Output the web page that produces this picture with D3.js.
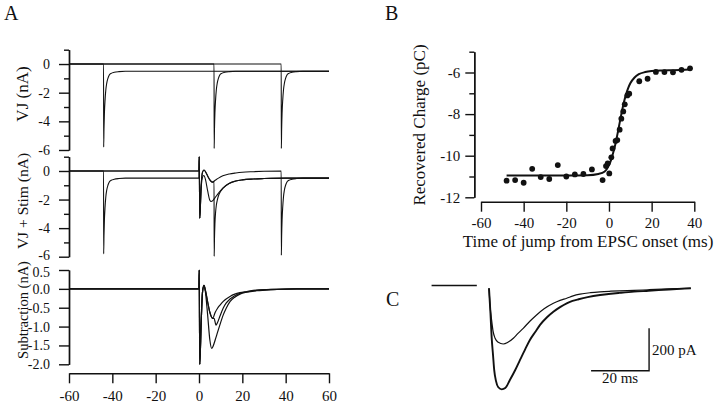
<!DOCTYPE html>
<html><head><meta charset="utf-8">
<script src="https://cdn.jsdelivr.net/npm/d3@7"></script>
<style>
body{margin:0;background:#fff;}
svg{display:block;font-family:"Liberation Serif","Times New Roman",serif;}
</style></head><body>
<svg id="c" width="720" height="404"></svg>
<script>
// ---------- Panel A tick values ----------
const aTicksX = [-60, -40, -20, 0, 20, 40, 60];
const vjTicks = [0, -2, -4, -6];
const vjMinor = [1, -1, -3, -5];
const subTicks = [0.5, 0, -0.5, -1, -1.5, -2];

// ---------- Panel A, VJ traces (time ms, current nA) ----------
const vj1T = [-60, -44.05, -44, -43.85, -43.65, -43.35, -43, -42.6, -42, -41.4, -40.5, -39.1, -37, -34, 60];
const vj1V = [0, 0, -5.8, -4.5, -3.4, -2.5, -1.8, -1.35, -0.98, -0.77, -0.65, -0.58, -0.53, -0.5, -0.5];
const vj2T = [-60, 6.95, 7, 7.15, 7.35, 7.65, 8, 8.4, 9, 9.6, 10.5, 11.9, 14, 17, 60];
const vj2V = [0, 0, -5.9, -4.5, -3.4, -2.5, -1.8, -1.35, -0.98, -0.77, -0.65, -0.58, -0.53, -0.5, -0.5];
const vj3T = [-60, 37.95, 38, 38.15, 38.35, 38.65, 39, 39.4, 40, 40.6, 41.5, 42.9, 45, 48, 60];
const vj3V = [0, 0, -5.9, -4.5, -3.4, -2.5, -1.8, -1.35, -0.98, -0.77, -0.65, -0.58, -0.53, -0.5, -0.5];

// ---------- Panel A, VJ + Stim traces ----------
const st1T = [-60, -44.05, -44, -43.85, -43.65, -43.35, -43, -42.6, -42, -41.4, -40.5, -39.1, -37, -34, -0.05, 0.1, 0.35, 1.0, 1.6, 2.2, 3, 4, 5, 5.6, 6.5, 7.5, 9, 11, 14, 17, 20, 25, 30, 40, 60];
const st1V = [0, 0, -5.8, -4.5, -3.4, -2.5, -1.8, -1.35, -0.98, -0.77, -0.65, -0.58, -0.53, -0.5, -0.5, 1.0, -3.3, -1.2, -0.45, -0.32, -0.6, -1.4, -2.05, -2.14, -2.05, -1.85, -1.55, -1.2, -0.86, -0.7, -0.62, -0.56, -0.53, -0.5, -0.5];
const st2T = [-60, -0.05, 0.1, 0.35, 1.0, 1.6, 2.3, 3, 4, 5, 6.2, 6.95, 7, 7.15, 7.35, 7.65, 8, 8.5, 9.2, 10, 11, 14, 17, 20, 25, 30, 40, 60];
const st2V = [0, 0, 1.0, -3.3, -1.0, -0.1, 0.07, -0.05, -0.35, -0.62, -0.78, -0.72, -5.98, -4.7, -3.7, -2.9, -2.4, -2.0, -1.65, -1.42, -1.22, -0.87, -0.7, -0.62, -0.56, -0.53, -0.5, -0.5];
const st3T = [-60, -0.05, 0.1, 0.35, 1.0, 1.6, 2.3, 3, 4, 5, 6.2, 7.5, 9, 11, 14, 17, 20, 25, 30, 37.95, 38, 38.15, 38.35, 38.65, 39, 39.4, 40, 40.6, 41.5, 42.9, 45, 48, 60];
const st3V = [0, 0, 1.0, -3.3, -1.0, -0.1, 0.07, -0.05, -0.35, -0.62, -0.78, -0.65, -0.5, -0.34, -0.21, -0.14, -0.09, -0.05, -0.02, 0, -5.9, -4.5, -3.4, -2.5, -1.8, -1.35, -0.98, -0.77, -0.65, -0.58, -0.53, -0.5, -0.5];

// ---------- Panel A, Subtraction traces ----------
const sub1T = [-60, -0.05, 0.1, 0.35, 1.0, 1.6, 2.3, 3, 4, 5, 5.85, 6.5, 7.5, 8.2, 9.5, 11.2, 12.5, 14.3, 16.5, 18.9, 22, 26.6, 35, 45, 60];
const sub1V = [0, 0, 0.5, -2.0, -0.9, -0.1, 0.09, -0.1, -0.7, -1.35, -1.58, -1.52, -1.35, -1.22, -0.98, -0.69, -0.52, -0.34, -0.22, -0.14, -0.09, -0.05, -0.02, 0, 0];
const sub2T = [-60, -0.05, 0.1, 0.35, 1.0, 1.6, 2.3, 3, 4, 5, 6.3, 6.95, 7.85, 8.5, 9.7, 11.2, 12.5, 14.3, 16.5, 18.9, 22, 26.6, 35, 45, 60];
const sub2V = [0, 0, 0.5, -2.0, -0.9, -0.1, 0.09, -0.05, -0.35, -0.62, -0.78, -0.78, -0.96, -0.9, -0.72, -0.51, -0.38, -0.27, -0.18, -0.12, -0.08, -0.04, -0.01, 0, 0];
const sub3T = [-60, -0.05, 0.1, 0.35, 1.0, 1.6, 2.3, 3, 4, 5, 6.3, 7.5, 8.5, 9.7, 11.2, 14.3, 16.5, 18.9, 22, 26.6, 35, 45, 60];
const sub3V = [0, 0, 0.5, -2.0, -0.9, -0.1, 0.09, -0.05, -0.35, -0.62, -0.78, -0.62, -0.52, -0.43, -0.33, -0.2, -0.14, -0.1, -0.07, -0.03, -0.01, 0, 0];

// ---------- Panel B ----------
const bTicksX = [-60, -40, -20, 0, 20, 40];
const bTicksY = [-6, -8, -10, -12];
const bMinorY = [-5, -7, -9, -11];
const jumpTime = [-48, -44, -40, -36, -32, -28, -24, -20, -16, -12, -8, -3, -1.4, -0.6, 0.15, 1.1, 1.7, 3.1, 3.9, 5.0, 5.8, 6.7, 7.4, 8.6, 9.5, 14.2, 18.1, 22, 26, 30, 34, 38];
const charge   = [-11.2, -11.17, -11.3, -10.63, -11.03, -11.12, -10.45, -11.0, -10.9, -10.88, -10.66, -11.17, -10.5, -10.37, -10.85, -10.08, -9.65, -9.29, -9.25, -8.75, -8.22, -7.87, -7.53, -7.1, -7.02, -6.42, -6.3, -5.97, -5.98, -5.99, -5.87, -5.8];
const fitT = [-48, -20, -10, -5, -2, 0, 1, 2, 3, 4, 5, 6, 7, 8, 9, 10, 12, 14, 17, 20, 25, 30, 38];
const fitQ = [-10.95, -10.95, -10.94, -10.88, -10.76, -10.45, -10.2, -9.85, -9.45, -8.95, -8.42, -7.9, -7.43, -7.05, -6.75, -6.52, -6.24, -6.08, -5.98, -5.93, -5.9, -5.89, -5.86];

// ---------- Panel C (time ms from onset, current pA) ----------
const cBaseT = [-19.8, -15, -10, -4.2];
const cBaseV = [0, 0, 0, 0];
const cLargeT = [0, 0.5, 0.9, 1.4, 1.8, 2.4, 3.2, 4.4, 5.6, 7.2, 9, 10.7, 12.5, 14.1, 16, 17.6, 20, 22.2, 24.5, 26.8, 28.8, 30.9, 34, 38.3, 42, 45, 50, 55, 62, 69.6];
const cLargeV = [-13, -130, -241, -330, -399, -450, -480, -490, -484, -446, -400, -351, -300, -257, -218, -186, -150, -124, -102, -84, -73, -65, -55, -45, -39, -35, -29, -25, -19, -13];
const cSmallT = [0, 0.4, 0.9, 1.4, 2.1, 3.2, 4.9, 6.5, 8.4, 10, 11.8, 14, 16.4, 19, 22.2, 24.5, 26.8, 29, 31.4, 35, 38.3, 42, 45, 50, 55, 62, 69.6];
const cSmallV = [-13, -100, -163, -215, -249, -268, -276, -268, -249, -226, -202, -170, -139, -110, -84, -70, -60, -49, -41, -34, -30, -27, -25, -23, -20, -16, -13];
const scaleBarT = [35.2, 55.2];   // 20 ms
const scaleBarI = [-402, -202];   // 200 pA

// ---------- drawing ----------
const svg = d3.select("#c");
const ink = "#111";
const zip = (t, v) => t.map((d, i) => [d, v[i]]);

// Panel A scales
const xA = d3.scaleLinear().domain([-60, 60]).range([69, 329]);
const yTop = d3.scaleLinear().domain([1, -6]).range([49.7, 150]);
const yMid = d3.scaleLinear().domain([1, -6]).range([156.7, 256.7]);
const ySub = d3.scaleLinear().domain([0.5, -2]).range([270, 364.3]);

function styleAxis(g, fs) {
  g.selectAll("path.domain").attr("stroke", ink).attr("stroke-width", 1.4);
  g.selectAll(".tick line").attr("stroke", ink).attr("stroke-width", 1.4);
  g.selectAll(".tick text").attr("fill", ink).style("font-size", (fs || 15) + "px")
    .style("font-family", '"Liberation Serif","Times New Roman",serif');
}

function yAxisA(y, major, minor, fmt, nudge) {
  svg.append("g").attr("transform", "translate(69,0)")
    .call(d3.axisLeft(y).tickValues(minor || []).tickSize(5).tickSizeOuter(0).tickFormat(""))
    .call(styleAxis);
  svg.append("g").attr("transform", "translate(69,0)")
    .call(d3.axisLeft(y).tickValues(major).tickSize(10).tickSizeOuter(0).tickPadding(9).tickFormat(fmt))
    .call(g => styleAxis(g, 14))
    .call(g => g.selectAll(".tick text").attr("y", d => nudge && nudge[0] === d ? nudge[1] : 0));
}
yAxisA(yTop, vjTicks, vjMinor, d => String(d));
yAxisA(yMid, vjTicks, vjMinor, d => String(d), [-6, -1.8]);
yAxisA(ySub, subTicks, null, d => d.toFixed(1), [0.5, 1.8]);

svg.append("g").attr("transform", "translate(0,373.3)")
  .call(d3.axisBottom(xA).tickValues(aTicksX).tickSize(10).tickSizeOuter(0).tickPadding(7).tickFormat(d => String(d)))
  .call(styleAxis);

function trace(t, v, x, y, w) {
  svg.append("path").datum(zip(t, v))
    .attr("fill", "none").attr("stroke", ink).attr("stroke-width", w || 1.1)
    .attr("stroke-linejoin", "round")
    .attr("d", d3.line().x(d => x(d[0])).y(d => y(d[1])).curve(d3.curveMonotoneX));
}
trace(vj1T, vj1V, xA, yTop); trace(vj2T, vj2V, xA, yTop); trace(vj3T, vj3V, xA, yTop);
trace(st1T, st1V, xA, yMid); trace(st2T, st2V, xA, yMid); trace(st3T, st3V, xA, yMid);
trace(sub1T, sub1V, xA, ySub, 1.2); trace(sub2T, sub2V, xA, ySub, 1.2); trace(sub3T, sub3V, xA, ySub, 1.2);

// Panel A labels
function vlabel(txt, x, y, size) {
  svg.append("text").attr("transform", `translate(${x},${y}) rotate(-90)`)
    .attr("text-anchor", "middle").style("font-size", size + "px").attr("fill", ink).text(txt);
}
vlabel("VJ (nA)", 28, 94, 17);
vlabel("VJ + Stim (nA)", 28, 201, 15.5);
vlabel("Subtraction (nA)", 28, 310, 14.5);

svg.append("text").attr("x", 4).attr("y", 20).style("font-size", "20px").attr("fill", ink).text("A");
svg.append("text").attr("x", 385).attr("y", 20).style("font-size", "20px").attr("fill", ink).text("B");
svg.append("text").attr("x", 386).attr("y", 306).style("font-size", "20px").attr("fill", ink).text("C");

// Panel B
const xB = d3.scaleLinear().domain([-60, 40]).range([481, 694.3]);
const yB = d3.scaleLinear().domain([-5, -12]).range([51.7, 197.3]);
svg.append("g").attr("transform", "translate(474.3,0)")
  .call(d3.axisLeft(yB).tickValues(bMinorY).tickSize(5).tickSizeOuter(0).tickFormat(""))
  .call(styleAxis);
svg.append("g").attr("transform", "translate(474.3,0)")
  .call(d3.axisLeft(yB).tickValues(bTicksY).tickSize(9).tickSizeOuter(0).tickPadding(5).tickFormat(d => String(d)))
  .call(styleAxis);
svg.append("g").attr("transform", "translate(0,201.7)")
  .call(d3.axisBottom(xB).tickValues(bTicksX).tickSize(10).tickSizeOuter(0).tickPadding(6).tickFormat(d => String(d)))
  .call(styleAxis);

svg.append("path").datum(zip(fitT, fitQ))
  .attr("fill", "none").attr("stroke", ink).attr("stroke-width", 2)
  .attr("d", d3.line().x(d => xB(d[0])).y(d => yB(d[1])).curve(d3.curveMonotoneX));
svg.append("g").selectAll("circle").data(zip(jumpTime, charge)).join("circle")
  .attr("cx", d => xB(d[0])).attr("cy", d => yB(d[1])).attr("r", 2.9).attr("fill", ink);

svg.append("text").attr("x", 588).attr("y", 247).attr("text-anchor", "middle")
  .style("font-size", "17px").attr("fill", ink).text("Time of jump from EPSC onset (ms)");
vlabel("Recovered Charge (pC)", 425, 125, 17);

// Panel C
const xC = d3.scaleLinear().domain([0, 70]).range([489, 692]);
const yC = d3.scaleLinear().domain([0, -500]).range([285.5, 391.5]);
trace(cBaseT, cBaseV, xC, yC, 1.5);
trace(cSmallT, cSmallV, xC, yC, 1.2);
trace(cLargeT, cLargeV, xC, yC, 1.9);

svg.append("path")
  .attr("d", `M${xC(scaleBarT[0])},${yC(scaleBarI[0])}H${xC(scaleBarT[1])}V${yC(scaleBarI[1])}`)
  .attr("fill", "none").attr("stroke", ink).attr("stroke-width", 1.4);
svg.append("text").attr("x", xC(scaleBarT[1]) + 3).attr("y", (yC(scaleBarI[0]) + yC(scaleBarI[1])) / 2 + 5)
  .style("font-size", "15px").attr("fill", ink).text("200 pA");
svg.append("text").attr("x", (xC(scaleBarT[0]) + xC(scaleBarT[1])) / 2).attr("y", 383)
  .attr("text-anchor", "middle").style("font-size", "15px").attr("fill", ink).text("20 ms");
</script>
</body></html>
